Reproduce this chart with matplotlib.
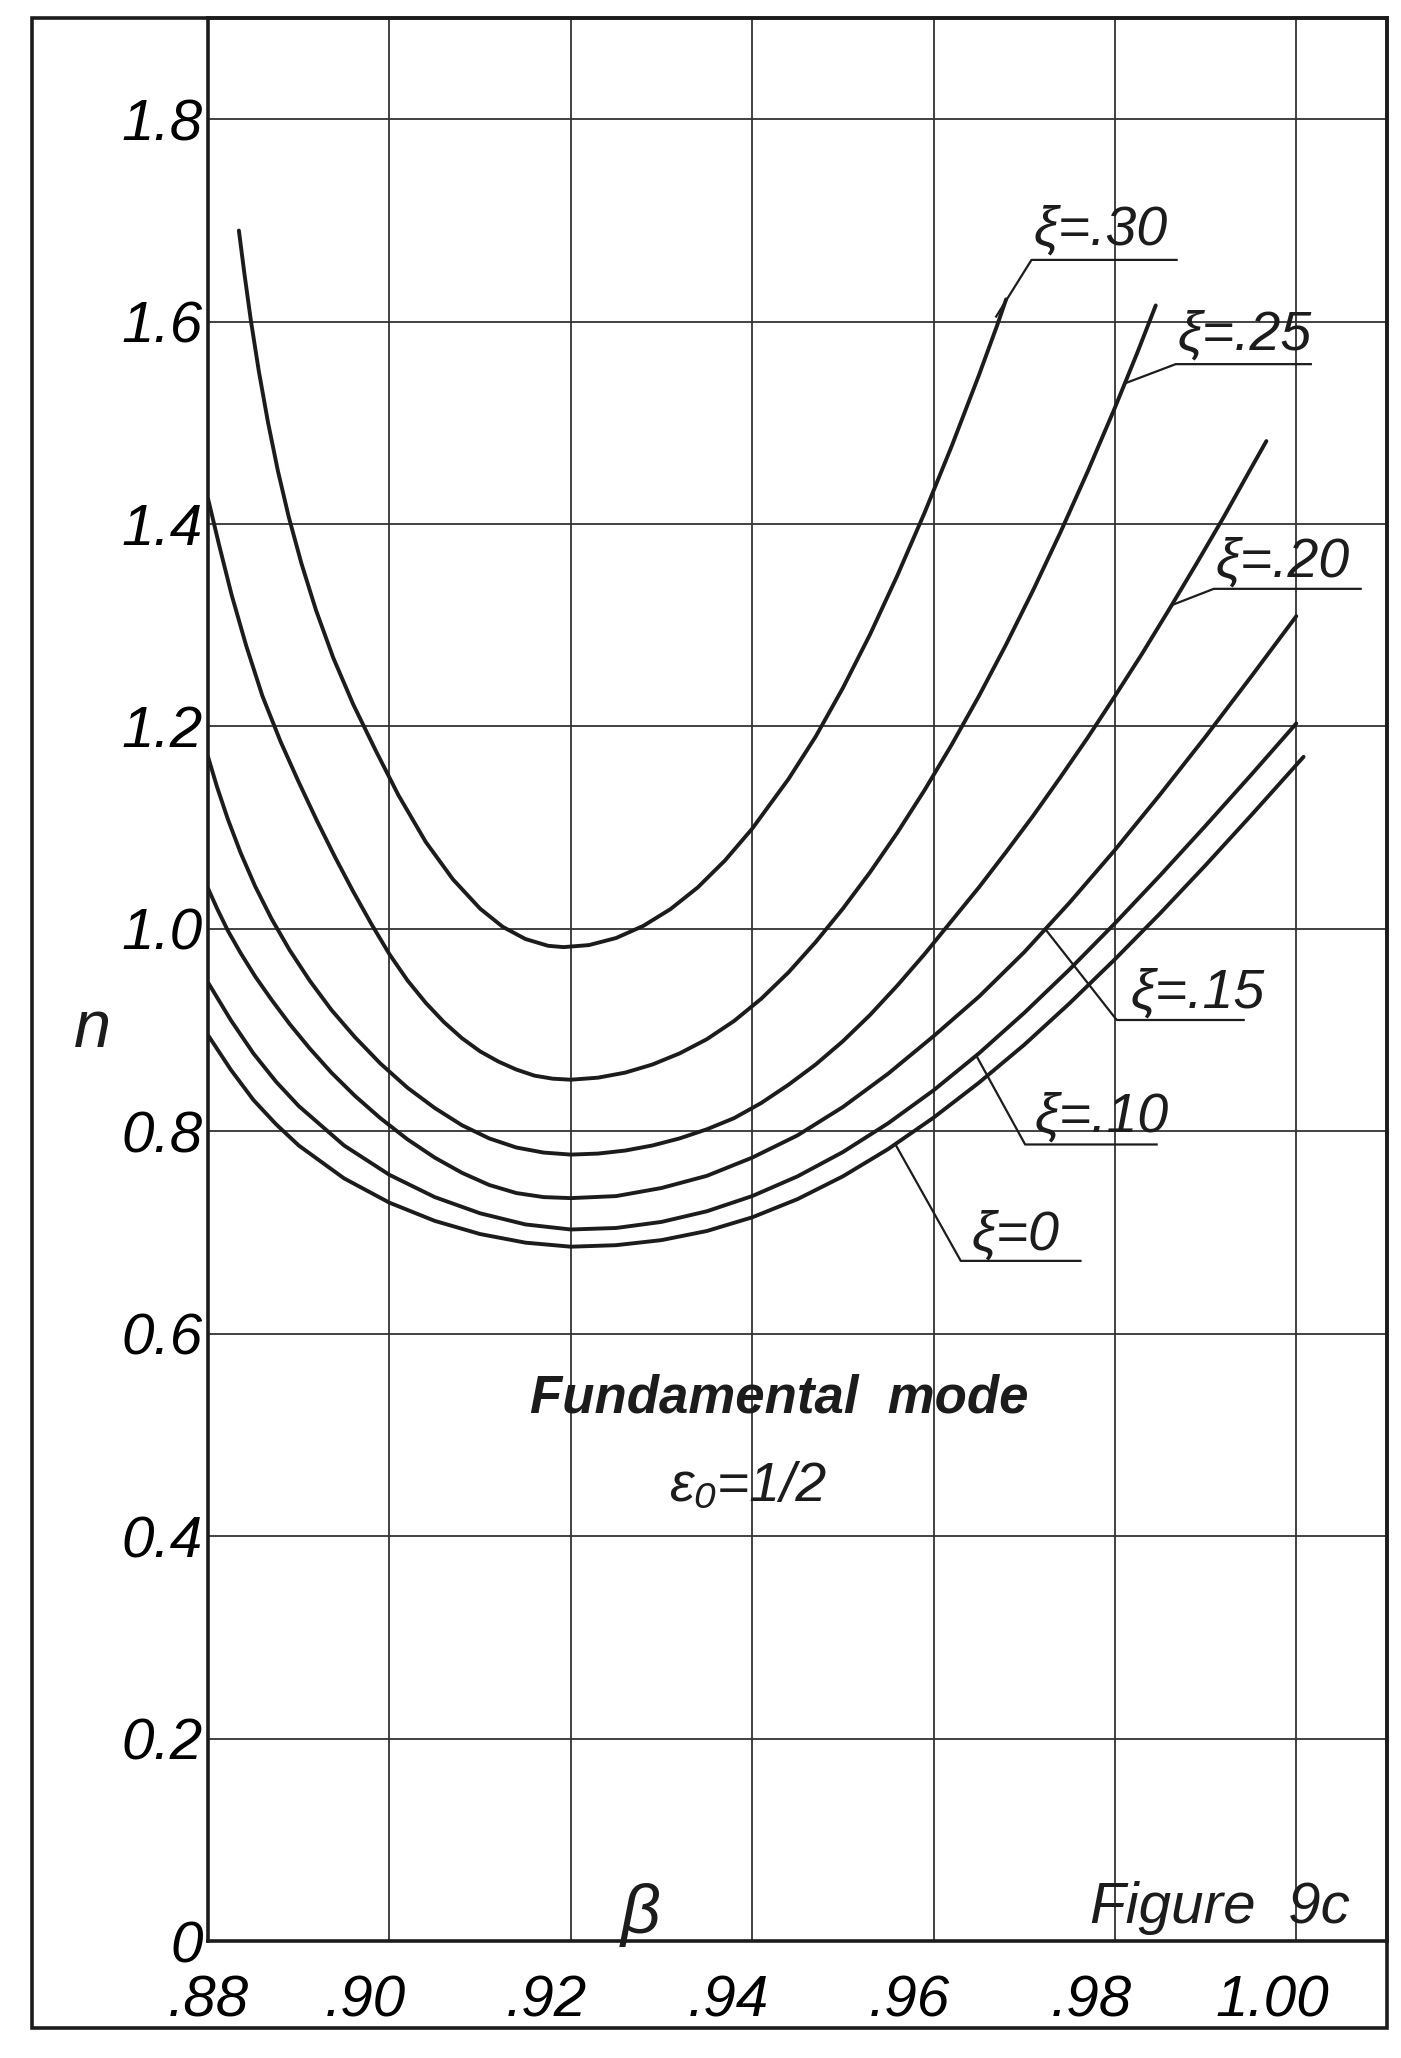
import numpy as np
import matplotlib
matplotlib.use("Agg")
import matplotlib.pyplot as plt
from matplotlib.patches import Rectangle
from matplotlib.transforms import ScaledTranslation

plt.rcParams['font.family'] = ['Liberation Sans Narrow', 'Liberation Sans', 'DejaVu Sans']

# curves n(beta), one pair per xi
beta_30 = [0.8834, 0.8840, 0.8847, 0.8856, 0.8866, 0.8877, 0.8889, 0.8903, 0.8919, 0.8938,
           0.8960, 0.8985, 0.9010, 0.9040, 0.9070, 0.9100, 0.9125, 0.9150, 0.9175, 0.9192,
           0.9220, 0.9250, 0.9280, 0.9310, 0.9340, 0.9370, 0.9400, 0.9440, 0.9470, 0.9500,
           0.9530, 0.9560, 0.9590, 0.9620, 0.9650, 0.9670, 0.9680]
n_30 = [1.690, 1.648, 1.6025, 1.551, 1.501, 1.4526, 1.407, 1.361, 1.315, 1.268,
        1.222, 1.176, 1.132, 1.086, 1.049, 1.020, 1.002, 0.990, 0.9833, 0.982,
        0.984, 0.991, 1.003, 1.0196, 1.041, 1.0676, 1.099, 1.148, 1.190, 1.238,
        1.291, 1.349, 1.411, 1.477, 1.547, 1.596, 1.622]

beta_25 = [0.8800, 0.8812, 0.8826, 0.8842, 0.8860, 0.8880, 0.8900, 0.8920, 0.8940, 0.8960,
           0.8980, 0.9000, 0.9020, 0.9040, 0.9060, 0.9080, 0.9100, 0.9120, 0.9140, 0.9160,
           0.9180, 0.9200, 0.9230, 0.9260, 0.9290, 0.9320, 0.9350, 0.9380, 0.9410, 0.9440,
           0.9470, 0.9500, 0.9530, 0.9560, 0.9590, 0.9620, 0.9650, 0.9680, 0.9710, 0.9740,
           0.9770, 0.9800, 0.9825, 0.9845]
n_25 = [1.425, 1.380, 1.330, 1.280, 1.230, 1.185, 1.145, 1.107, 1.071, 1.037,
        1.005, 0.975, 0.949, 0.927, 0.908, 0.892, 0.879, 0.869, 0.861, 0.855,
        0.852, 0.851, 0.853, 0.858, 0.866, 0.877, 0.891, 0.909, 0.931, 0.957,
        0.987, 1.020, 1.056, 1.095, 1.137, 1.182, 1.230, 1.281, 1.335, 1.392,
        1.452, 1.515, 1.570, 1.616]

beta_20 = [0.8800, 0.8810, 0.8822, 0.8836, 0.8852, 0.8870, 0.8890, 0.8912, 0.8936, 0.8962,
           0.8990, 0.9020, 0.9050, 0.9080, 0.9110, 0.9140, 0.9170, 0.9200, 0.9230, 0.9260,
           0.9290, 0.9320, 0.9350, 0.9380, 0.9410, 0.9440, 0.9470, 0.9500, 0.9530, 0.9560,
           0.9590, 0.9620, 0.9650, 0.9680, 0.9710, 0.9740, 0.9770, 0.9800, 0.9830, 0.9860,
           0.9890, 0.9920, 0.9950, 0.9967]
n_20 = [1.170, 1.140, 1.108, 1.075, 1.042, 1.010, 0.979, 0.949, 0.920, 0.893,
        0.867, 0.843, 0.823, 0.806, 0.793, 0.784, 0.779, 0.777, 0.778, 0.781,
        0.786, 0.793, 0.802, 0.813, 0.828, 0.846, 0.866, 0.889, 0.915, 0.944,
        0.975, 1.008, 1.041, 1.076, 1.112, 1.150, 1.189, 1.230, 1.272, 1.316,
        1.361, 1.407, 1.455, 1.482]

beta_15 = [0.8800, 0.8810, 0.8822, 0.8836, 0.8852, 0.8870, 0.8890, 0.8912, 0.8936, 0.8962,
           0.8990, 0.9020, 0.9050, 0.9080, 0.9110, 0.9140, 0.9170, 0.9200, 0.9250, 0.9300,
           0.9350, 0.9400, 0.9450, 0.9500, 0.9550, 0.9600, 0.9650, 0.9700, 0.9750, 0.9800,
           0.9850, 0.9900, 0.9950, 1.0000]
n_15 = [1.040, 1.020, 0.998, 0.976, 0.953, 0.930, 0.906, 0.882, 0.858, 0.835,
        0.813, 0.792, 0.774, 0.759, 0.747, 0.739, 0.735, 0.734, 0.736, 0.744,
        0.756, 0.774, 0.796, 0.824, 0.857, 0.894, 0.933, 0.977, 1.026, 1.078,
        1.133, 1.190, 1.249, 1.309]

beta_10 = [0.8800, 0.8825, 0.8850, 0.8875, 0.8900, 0.8950, 0.9000, 0.9050, 0.9100, 0.9150,
           0.9200, 0.9250, 0.9300, 0.9350, 0.9400, 0.9450, 0.9500, 0.9550, 0.9600, 0.9650,
           0.9700, 0.9750, 0.9800, 0.9850, 0.9900, 0.9950, 1.0000]
n_10 = [0.947, 0.910, 0.877, 0.849, 0.825, 0.786, 0.757, 0.735, 0.719, 0.708,
        0.703, 0.7045, 0.7105, 0.721, 0.736, 0.7555, 0.7795, 0.808, 0.8405, 0.877,
        0.917, 0.960, 1.0055, 1.053, 1.102, 1.152, 1.203]

beta_00 = [0.8800, 0.8825, 0.8850, 0.8875, 0.8900, 0.8950, 0.9000, 0.9050, 0.9100, 0.9150,
           0.9200, 0.9250, 0.9300, 0.9350, 0.9400, 0.9450, 0.9500, 0.9550, 0.9600, 0.9650,
           0.9700, 0.9750, 0.9800, 0.9850, 0.9900, 0.9950, 1.0008]
n_00 = [0.895, 0.861, 0.831, 0.807, 0.786, 0.7535, 0.7295, 0.7115, 0.6985, 0.690,
        0.686, 0.6875, 0.6925, 0.7015, 0.715, 0.733, 0.7555, 0.7825, 0.8135, 0.848,
        0.8855, 0.9265, 0.970, 1.0155, 1.063, 1.112, 1.170]

beta_ticks = [0.88, 0.90, 0.92, 0.94, 0.96, 0.98, 1.00]
beta_labels = ['.88', '.90', '.92', '.94', '.96', '.98', '1.00']
n_ticks = [0, 0.2, 0.4, 0.6, 0.8, 1.0, 1.2, 1.4, 1.6, 1.8]
n_labels = ['0', '0.2', '0.4', '0.6', '0.8', '1.0', '1.2', '1.4', '1.6', '1.8']

xi_labels = ['ξ=.30', 'ξ=.25', 'ξ=.20', 'ξ=.15', 'ξ=.10', 'ξ=0']

ink = '#1c1c1c'
fig = plt.figure(figsize=(14.01, 20.58), dpi=100)
ax = fig.add_axes([0.1485, 0.05685, 0.8415, 0.9344])

curves = [(beta_30, n_30), (beta_25, n_25), (beta_20, n_20),
          (beta_15, n_15), (beta_10, n_10), (beta_00, n_00)]
for b, n in curves:
    ax.plot(b, n, color=ink, lw=2.8, solid_capstyle='round', solid_joinstyle='round')

ax.set_xlim(0.88, 1.010)
ax.set_ylim(0, 1.9)
ax.set_xticks(beta_ticks)
ax.set_xticklabels(beta_labels)
ax.set_yticks(n_ticks)
ax.set_yticklabels(n_labels)
ax.grid(True, color='#333333', lw=1.3)
ax.tick_params(length=0, labelsize=42)
ax.tick_params(axis='x', pad=24)
ax.tick_params(axis='y', pad=4)
for lab in ax.get_xticklabels() + ax.get_yticklabels():
    lab.set_style('italic')
for i, lab in enumerate(ax.get_xticklabels()):
    if i > 0:
        lab.set_transform(lab.get_transform() + ScaledTranslation(-0.24, 0, fig.dpi_scale_trans))
for s in ax.spines.values():
    s.set_linewidth(2.6)
    s.set_color(ink)

# outer frame
fig.add_artist(Rectangle((0.0228, 0.01458), 0.9672, 0.97667, transform=fig.transFigure,
                         fill=False, lw=2.6, ec=ink))

# leaders and labels: (leader x, leader y, text x, text baseline)
leaders = [
    ([0.9669, 0.9708, 0.9868], [1.605, 1.661, 1.661], 0.9710, 1.676),
    ([0.9811, 0.9867, 1.0016], [1.539, 1.558, 1.558], 0.9869, 1.572),
    ([0.9863, 0.9909, 1.0071], [1.320, 1.336, 1.336], 0.9911, 1.348),
    ([0.9723, 0.9802, 0.9942], [1.000, 0.910, 0.910], 0.9817, 0.922),
    ([0.9647, 0.9701, 0.9846], [0.875, 0.787, 0.787], 0.9711, 0.800),
    ([0.9558, 0.9630, 0.9762], [0.787, 0.672, 0.672], 0.9642, 0.683),
]
for (lx, ly, tx, ty), txt in zip(leaders, xi_labels):
    ax.plot(lx, ly, color=ink, lw=1.6)
    ax.text(tx, ty, txt, fontsize=40, style='italic', ha='left', va='baseline', color=ink)

ax.text(0.9430, 0.522, 'Fundamental  mode', fontsize=38, style='italic', weight='bold',
        ha='center', va='baseline', color=ink)
ax.text(0.9395, 0.435, 'ε₀=1/2', fontsize=40, style='italic', ha='center', va='baseline',
        color=ink)
ax.text(0.9277, 0.008, 'β', fontsize=50, style='italic', ha='center', va='baseline', color=ink)
ax.text(0.9773, 0.018, 'Figure  9c', fontsize=42, style='italic', ha='left', va='baseline',
        color=ink)
fig.text(0.0657, 0.4995, 'n', fontsize=48, style='italic', ha='center', va='center', color=ink)

fig.savefig('out.png', dpi=100, facecolor='white')
